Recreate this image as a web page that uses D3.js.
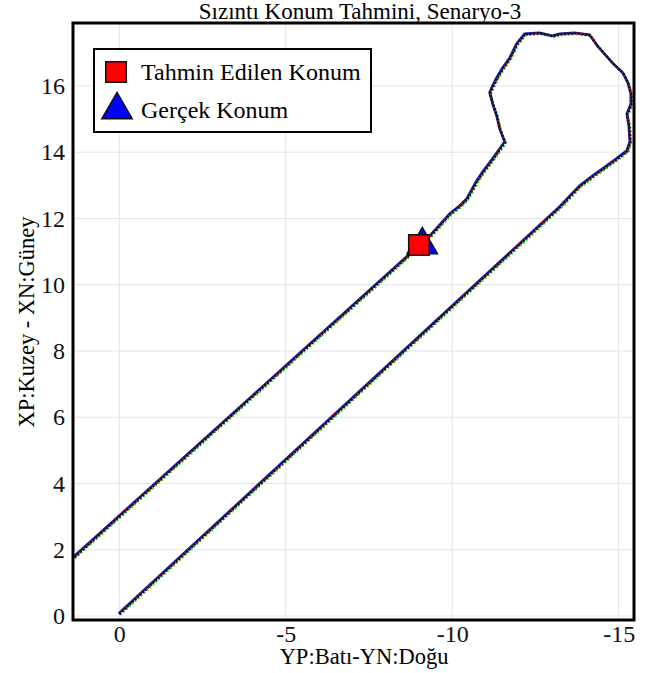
<!DOCTYPE html>
<html>

<head>
    <meta charset="utf-8">
    <style>
        body {
            margin: 0;
            background: #fff;
        }

        svg {
            display: block;
            font-family: 'Liberation Serif', 'Times New Roman', serif;
        }

        .tick text {
            font-size: 24px;
            fill: #111;
        }

        .grid line {
            stroke: #e4e4e4;
            stroke-width: 1;
        }

        .title {
            font-size: 23px;
        }

        .axis-label {
            font-size: 22.5px;
        }

        .legend-text {
            font-size: 24px;
        }
    </style>
</head>

<body>
    <svg width="655" height="673"></svg>

    <script src="https://d3js.org/d3.v7.min.js"></script>
    <script>
        // pipeline route (east-west, north-south)
        let routeX = [0, -13.24, -13.84, -14.23, -14.65, -14.95, -15.26, -15.35, -15.32, -15.26, -15.38, -15.38,
            -15.29, -15.14, -14.83, -14.59, -14.38, -14.14, -13.69, -13.24, -13.03, -12.64, -12.19, -11.95,
            -11.74, -11.53, -11.35, -11.20, -11.14, -11.23, -11.35, -11.44, -11.59, -11.44, -11.23, -10.93,
            -10.75, -10.45, -10.24, -9.94, -9.34, 1.41, 1.77]
        let routeY = [0.06, 12.34, 12.97, 13.27, 13.57, 13.79, 14.03, 14.30, 14.78, 15.14, 15.44, 15.75,
            16.08, 16.38, 16.68, 16.95, 17.19, 17.53, 17.59, 17.56, 17.50, 17.59, 17.56, 17.26,
            16.83, 16.53, 16.23, 15.93, 15.78, 15.44, 15.08, 14.69, 14.30, 14.09, 13.79, 13.39,
            13.12, 12.58, 12.37, 12.13, 11.46, 1.72, 1.39]

        let estimated = { x: -9.0, y: 11.2 }
        let actual = { x: -9.1, y: 11.2 }

        let xTicks = [0, -5, -10, -15]
        let yTicks = [0, 2, 4, 6, 8, 10, 12, 14, 16]

        let legendLabels = ["Tahmin Edilen Konum", "Gerçek Konum"]

        let margin = { top: 23, right: 21, bottom: 53, left: 73 }
        let width = 655 - margin.left - margin.right
        let height = 673 - margin.top - margin.bottom

        let svg = d3.select("svg")

        let x = d3.scaleLinear()
            .domain([1.39, -15.46])
            .range([0, width])

        let y = d3.scaleLinear()
            .domain([-0.12, 17.9])
            .range([height, 0])

        let g = svg.append("g")
            .attr("transform", "translate(" + margin.left + "," + margin.top + ")")

        g.append("clipPath")
            .attr("id", "clip")
            .append("rect")
            .attr("width", width)
            .attr("height", height)

        // grid
        g.append("g")
            .attr("class", "grid")
            .selectAll("line.v")
            .data(xTicks)
            .join("line")
            .attr("x1", d => x(d))
            .attr("x2", d => x(d))
            .attr("y1", 0)
            .attr("y2", height)

        g.append("g")
            .attr("class", "grid")
            .selectAll("line.h")
            .data(yTicks)
            .join("line")
            .attr("x1", 0)
            .attr("x2", width)
            .attr("y1", d => y(d))
            .attr("y2", d => y(d))

        // axes (plain hyphen for minus, serif labels)
        g.append("g")
            .attr("class", "x axis")
            .attr("transform", "translate(0," + height + ")")
            .call(d3.axisBottom(x).tickValues(xTicks).tickSize(0).tickPadding(5).tickFormat(d => String(d)))
            .call(g => g.select(".domain").remove())
            .attr("font-family", null)
            .attr("font-size", null)

        g.append("g")
            .attr("class", "y axis")
            .call(d3.axisLeft(y).tickValues(yTicks).tickSize(0).tickPadding(8).tickFormat(d => String(d)))
            .call(g => g.select(".domain").remove())
            .attr("font-family", null)
            .attr("font-size", null)

        g.selectAll(".tick text").attr("fill", "#111")

        // route
        let points = routeX.map((v, i) => [v, routeY[i]])
        let line = d3.line()
            .x(d => x(d[0]))
            .y(d => y(d[1]))

        let route = g.append("g").attr("clip-path", "url(#clip)")

        route.append("path")
            .attr("d", line(points))
            .attr("fill", "none")
            .attr("stroke", "#33dd33")
            .attr("stroke-width", 2)
            .attr("stroke-dasharray", "2,2")
            .attr("transform", "translate(1,1)")

        route.append("path")
            .attr("d", line(points))
            .attr("fill", "none")
            .attr("stroke", "#1a1ab0")
            .attr("stroke-width", 2.5)
            .attr("transform", "translate(-0.6,-0.6)")

        route.append("path")
            .attr("d", line(points))
            .attr("fill", "none")
            .attr("stroke", "#d01010")
            .attr("stroke-width", 2.2)
            .attr("stroke-dasharray", "1.5,3")

        route.append("path")
            .attr("d", line(points))
            .attr("fill", "none")
            .attr("stroke", "#111")
            .attr("stroke-width", 2.4)
            .attr("stroke-dasharray", "2,1.5")

        // markers
        g.append("path")
            .attr("d", d3.symbol(d3.symbolTriangle, 400)())
            .attr("transform", "translate(" + x(actual.x) + "," + y(actual.y) + ")")
            .attr("fill", "#0000ff")
            .attr("stroke", "#111")
            .attr("stroke-width", 1.5)

        g.append("path")
            .attr("d", d3.symbol(d3.symbolSquare, 420)())
            .attr("transform", "translate(" + x(estimated.x) + "," + y(estimated.y) + ")")
            .attr("fill", "#ff0000")
            .attr("stroke", "#111")
            .attr("stroke-width", 1.5)

        // frame
        g.append("rect")
            .attr("width", width)
            .attr("height", height)
            .attr("fill", "none")
            .attr("stroke", "#000")
            .attr("stroke-width", 3)

        // legend
        let legend = g.append("g")
            .attr("transform", "translate(21,26)")

        legend.append("rect")
            .attr("width", 277)
            .attr("height", 83)
            .attr("fill", "#fff")
            .attr("stroke", "#000")
            .attr("stroke-width", 2)

        legend.append("path")
            .attr("d", d3.symbol(d3.symbolSquare, 420)())
            .attr("transform", "translate(22,23)")
            .attr("fill", "#ff0000")
            .attr("stroke", "#111")
            .attr("stroke-width", 1.5)

        legend.append("path")
            .attr("d", d3.symbol(d3.symbolTriangle, 400)())
            .attr("transform", "translate(23,61)")
            .attr("fill", "#0000ff")
            .attr("stroke", "#111")
            .attr("stroke-width", 1.5)

        legend.selectAll("text")
            .data(legendLabels)
            .join("text")
            .attr("class", "legend-text")
            .attr("x", 47)
            .attr("y", (d, i) => 31 + i * 38)
            .text(d => d)

        // titles
        svg.append("text")
            .attr("class", "title")
            .attr("x", 360)
            .attr("y", 19)
            .attr("text-anchor", "middle")
            .text("Sızıntı Konum Tahmini, Senaryo-3")

        svg.append("text")
            .attr("class", "axis-label")
            .attr("x", 364)
            .attr("y", 664)
            .attr("text-anchor", "middle")
            .text("YP:Batı-YN:Doğu")

        svg.append("text")
            .attr("class", "axis-label")
            .attr("transform", "translate(34,322) rotate(-90)")
            .attr("text-anchor", "middle")
            .text("XP:Kuzey - XN:Güney")
    </script>
</body>

</html>
